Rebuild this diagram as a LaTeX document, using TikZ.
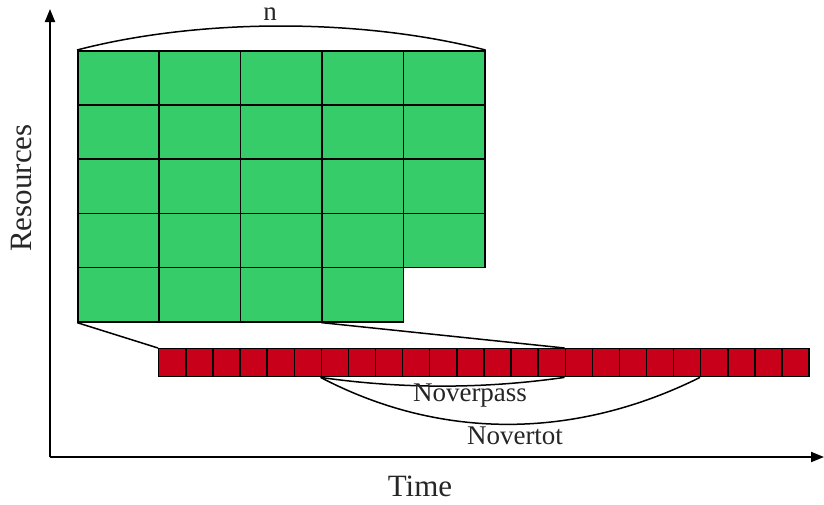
\documentclass[tikz,border=0pt]{standalone}
\usepackage{fontspec}
\setmainfont{Liberation Serif}
\usetikzlibrary{arrows.meta}
\definecolor{cellgreen}{RGB}{54,204,106}
\definecolor{cellred}{RGB}{200,0,26}
\tikzset{
  gcell/.style={draw=black, line width=1.6pt, fill=cellgreen, minimum width=81.4pt, minimum height=54.2pt, inner sep=0pt, anchor=north west},
  rcell/.style={draw=black, line width=1.4pt, fill=cellred, minimum width=27.1pt, minimum height=28pt, inner sep=0pt, anchor=north west},
  axis/.style={line width=2pt, -{Triangle[length=13pt,width=10pt]}},
  link/.style={line width=1.5pt},
  lbl/.style={font=\fontsize{27}{30}\selectfont, text=black!85},
  axlbl/.style={font=\fontsize{31}{34}\selectfont, text=black!85}
}
\begin{document}
\begin{tikzpicture}[x=1pt,y=-1pt]
\useasboundingbox (0,0) rectangle (824,504);
% axes
\coordinate (o) at (50,457);
\coordinate (ytop) at (50,9);
\coordinate (xend) at (824,457);
\draw[axis] (o) -- (ytop);
\draw[axis] (o) -- (xend);
\node[axlbl] (tlabel) at (420,486) {Time};
\node[axlbl, rotate=90] (rlabel) at (22,188) {Resources};
% green grid
\foreach \r in {1,...,4}{
  \foreach \c in {1,...,5}{
    \node[gcell] (g-\r-\c) at ({77+81.4*(\c-1)},{50+54.2*(\r-1)}) {};
  }
}
\foreach \c in {1,...,4}{
  \node[gcell] (g-5-\c) at ({77+81.4*(\c-1)},{50+54.2*4}) {};
}
% red strip
\foreach \i in {1,...,24}{
  \node[rcell] (r-\i) at ({158+27.1*(\i-1)},348) {};
}
% connectors
\draw[link] (g-5-1.south west) -- (r-1.north west);
\draw[link] (g-5-4.south west) -- (r-16.north west);
% arcs
\draw[link] (g-1-1.north west) .. controls (200,18) and (361,18) .. (g-1-5.north east);
\node[lbl] (nlabel) at (270,14) {n};
\draw[link] (r-7.south west) .. controls (402,389) and (483,389) .. (r-16.south west);
\node[lbl] (ovp) at (470,396) {Noverpass};
\draw[link] (r-7.south west) .. controls (440,440) and (574,440) .. (r-21.south west);
\node[lbl] (ovt) at (515,436) {Novertot};
\end{tikzpicture}
\end{document}
